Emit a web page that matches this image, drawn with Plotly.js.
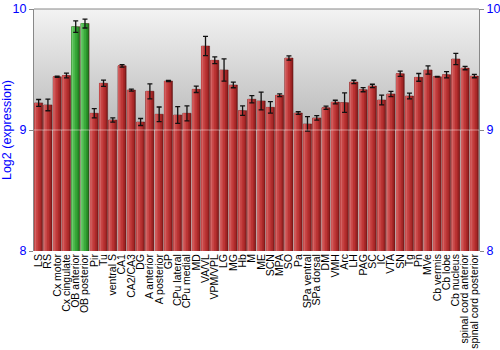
<!DOCTYPE html>
<html><head><meta charset="utf-8">
<script src="https://cdn.plot.ly/plotly-3.0.1.min.js"></script>
<style>html,body{margin:0;padding:0;background:#fff}#chart{width:500px;height:350px}</style>
</head><body><div id="chart"></div>
<script>
const categories = ["LS","RS","Cx motor","Cx cingulate","OB anterior","OB posterior","Pir","Tu","ventral S","CA1","CA2/CA3","DG","A anterior","A posterior","GP","CPu lateral","CPu medial","MD","VA/VL","VPM/VPL","LG","MG","Hb","M","ME","SCN","MPA","SO","Pa","SPa ventral","SPa dorsal","DM","VMH","Arc","LH","PAG","SC","IC","VTA","SN","Tg","Pn","MVe","Cb vermis","Cb lobe","Cb nucleus","spinal cord anterior","spinal cord posterior"];
const values = [9.224,9.207,9.44,9.45,9.854,9.88,9.138,9.386,9.083,9.53,9.33,9.066,9.32,9.13,9.405,9.124,9.138,9.336,9.694,9.576,9.496,9.372,9.16,9.254,9.24,9.187,9.287,9.595,9.14,9.05,9.1,9.184,9.231,9.226,9.397,9.333,9.364,9.248,9.298,9.465,9.281,9.435,9.496,9.44,9.457,9.587,9.512,9.446];
const errors = [0.028,0.048,0.005,0.02,0.048,0.037,0.038,0.026,0.018,0.01,0.008,0.029,0.062,0.06,0.005,0.07,0.062,0.026,0.08,0.028,0.092,0.023,0.039,0.03,0.073,0.048,0.012,0.018,0.011,0.06,0.019,0.014,0.015,0.081,0.014,0.017,0.014,0.041,0.022,0.021,0.023,0.032,0.034,0.003,0.026,0.047,0.014,0.014];
const highlighted = ["OB anterior","OB posterior"];
const yTicks = [8,9,10];

const redShades = ["#8a1e1e","#a82828","#bb3434","#c84646","#d26464"];
const greenShades = ["#1f7a1f","#2c952c","#38a838","#4cb84c","#6ccb6c"];
const strips = [[-0.44,0.88],[-0.44,0.72],[-0.44,0.55],[-0.44,0.35],[-0.42,0.14]];
const traces = strips.map((s,i)=>({
  type:'bar', x:categories, y:values,
  width:categories.map(()=>s[1]), offset:categories.map(()=>s[0]),
  marker:{color:categories.map(c=>highlighted.includes(c)?greenShades[i]:redShades[i]),
          line:{width:i===0?0.6:0,color:i===0?'rgba(80,10,10,0.8)':'rgba(0,0,0,0)'}},
  hoverinfo:'skip', showlegend:false
}));
traces.push({
  type:'bar', x:categories, y:values,
  width:categories.map(()=>0.88), offset:categories.map(()=>-0.44),
  marker:{color:'rgba(0,0,0,0)', line:{width:0}},
  error_y:{type:'data', array:errors, visible:true, color:'#111', thickness:1.3, width:2.5},
  showlegend:false
});
// invisible trace to bind the right-hand axis
traces.push({type:'scatter', x:[categories[0]], y:[9], yaxis:'y2', mode:'markers',
  marker:{opacity:0, size:1}, hoverinfo:'skip', showlegend:false});

const bgSvg = '<svg xmlns="http://www.w3.org/2000/svg" width="100" height="100" preserveAspectRatio="none"><defs><linearGradient id="g" x1="0" y1="0" x2="0" y2="1"><stop offset="0" stop-color="#f3f3f3"/><stop offset="0.5" stop-color="#b9b9b9"/><stop offset="0.5" stop-color="#ffffff"/><stop offset="1" stop-color="#ffffff"/></linearGradient></defs><rect width="100" height="100" fill="url(#g)"/></svg>';

const axisFont = {family:'Liberation Sans, Arial, sans-serif', size:12.5, color:'#0000ff'};
const layout = {
  width:500, height:350,
  margin:{l:34, r:21, t:9, b:99},
  paper_bgcolor:'#ffffff', plot_bgcolor:'rgba(0,0,0,0)',
  barmode:'overlay',
  images:[{source:'data:image/svg+xml;charset=utf-8,'+encodeURIComponent(bgSvg),
    xref:'paper', yref:'paper', x:0, y:1, sizex:1, sizey:1, sizing:'stretch', layer:'below'}],
  xaxis:{type:'category', tickmode:'array', tickvals:categories, ticktext:categories, tickangle:-90,
    tickfont:{family:'Liberation Sans, Arial, sans-serif', size:10.5, color:'#000'},
    showgrid:false, showline:false, ticks:'', automargin:false, range:[-0.5, categories.length-0.5], fixedrange:true},
  yaxis:{range:[8,10], tickvals:yTicks, ticktext:yTicks.map(String), tickfont:axisFont,
    title:{text:'Log2 (expression)', font:axisFont, standoff:6},
    showgrid:true, gridcolor:'rgba(255,255,255,0.7)', gridwidth:1, zeroline:false,
    showline:true, linecolor:'#888', linewidth:1, ticks:'outside', ticklen:4, tickcolor:'#888', automargin:false},
  yaxis2:{range:[8,10], overlaying:'y', side:'right', tickvals:yTicks, ticktext:yTicks.map(String), tickfont:axisFont,
    showgrid:false, zeroline:false, showline:true, linecolor:'#888', linewidth:1, ticks:'outside', ticklen:4, tickcolor:'#888', automargin:false},
  shapes:[
    {type:'line', xref:'paper', yref:'paper', x0:0, x1:1, y0:1, y1:1, line:{color:'#888', width:1}},
    {type:'line', xref:'paper', yref:'y', x0:0, x1:1, y0:9, y1:9, line:{color:'rgba(255,255,255,0.45)', width:1}, layer:'above'}
  ],
  showlegend:false
};
Plotly.newPlot('chart', traces, layout, {staticPlot:true, displayModeBar:false});
</script></body></html>
